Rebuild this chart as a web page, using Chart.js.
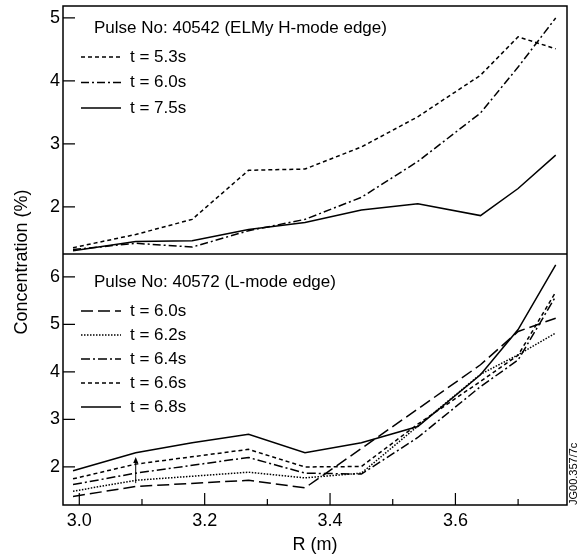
<!DOCTYPE html>
<html>
<head>
<meta charset="utf-8">
<script src="https://cdn.jsdelivr.net/npm/chart.js@4"></script>
<style>
  html, body { margin: 0; padding: 0; background: #fff; }
  #wrap { width: 584px; height: 555px; }
</style>
</head>
<body>
<div id="wrap"><canvas id="myChart" width="584" height="555"></canvas></div>
<script>
// Pulse No: 40542 (top panel), R in m, concentration in %
const rTop = [2.99, 3.09, 3.18, 3.27, 3.36, 3.45, 3.54, 3.64, 3.70, 3.76];
const top53 = [1.35, 1.56, 1.80, 2.58, 2.60, 2.95, 3.43, 4.09, 4.70, 4.51];
const top60 = [1.32, 1.42, 1.36, 1.62, 1.80, 2.15, 2.72, 3.49, 4.22, 5.00];
const top75 = [1.30, 1.45, 1.46, 1.64, 1.75, 1.95, 2.05, 1.86, 2.29, 2.82];

// Pulse No: 40572 (bottom panel)
const rBot = [2.99, 3.09, 3.27, 3.36, 3.45, 3.54, 3.64, 3.70, 3.76];
const bot60 = [1.38, 1.59, 1.72, 1.56, 2.39, 3.22, 4.15, 4.85, 5.13];
const bot62 = [1.49, 1.72, 1.89, 1.77, 1.87, 2.86, 3.95, 4.36, 4.82];
const bot64 = [1.63, 1.87, 2.20, 1.87, 1.85, 2.62, 3.69, 4.25, 5.59];
const bot66 = [1.75, 2.06, 2.37, 2.00, 2.01, 2.90, 3.80, 4.35, 5.68];
const rBot68 = [2.99, 3.09, 3.18, 3.27, 3.36, 3.45, 3.54, 3.64, 3.70, 3.76];
const bot68 = [1.92, 2.30, 2.51, 2.69, 2.30, 2.51, 2.85, 3.94, 4.89, 6.25];

// ticks
const xTicks = [3.0, 3.1, 3.2, 3.3, 3.4, 3.5, 3.6, 3.7];
const yTopTicks = [2, 3, 4, 5];
const yBotTicks = [2, 3, 4, 5, 6];

// small arrow in the lower panel
const arrowR = 3.09;
const arrowFrom = 1.66;
const arrowTo = 2.21;

const FONT = '"Liberation Sans", Arial, Helvetica, sans-serif';

function pts(rs, vs) {
  return vs.map((v, i) => ({ x: rs[i], y: v }));
}

function line(label, rs, vs, axis, dash, width) {
  return {
    label: label,
    data: pts(rs, vs),
    yAxisID: axis,
    borderColor: '#000',
    borderWidth: width || 1.5,
    borderDash: dash,
    pointRadius: 0,
    tension: 0,
    fill: false
  };
}

// no extra padding for the edge tick labels
function noPad(s) {
  s.paddingTop = 0; s.paddingBottom = 0; s.paddingLeft = 0; s.paddingRight = 0;
}

// frame, inward ticks, panel titles, legends, axis titles
const decor = {
  id: 'decor',
  beforeDraw(chart) {
    const ctx = chart.ctx;
    ctx.save();
    ctx.fillStyle = '#fff';
    ctx.fillRect(0, 0, chart.width, chart.height);
    ctx.restore();
  },
  afterDraw(chart) {
    const ctx = chart.ctx;
    const ca = chart.chartArea;
    const x = chart.scales.x, yT = chart.scales.yTop, yB = chart.scales.yBot;
    ctx.save();
    ctx.strokeStyle = '#000';
    ctx.fillStyle = '#000';
    ctx.lineWidth = 1.5;
    ctx.setLineDash([]);
    ctx.strokeRect(ca.left, ca.top, ca.right - ca.left, ca.bottom - ca.top);
    ctx.beginPath();
    ctx.moveTo(ca.left, yB.top);
    ctx.lineTo(ca.right, yB.top);
    ctx.stroke();

    ctx.lineWidth = 1.2;
    ctx.beginPath();
    yTopTicks.forEach(v => {
      const p = yT.getPixelForValue(v);
      ctx.moveTo(ca.left, p); ctx.lineTo(ca.left + 12, p);
    });
    yBotTicks.forEach(v => {
      const p = yB.getPixelForValue(v);
      ctx.moveTo(ca.left, p); ctx.lineTo(ca.left + 12, p);
    });
    xTicks.forEach((v, i) => {
      const p = x.getPixelForValue(v);
      ctx.moveTo(p, ca.bottom); ctx.lineTo(p, ca.bottom - (i % 2 === 0 ? 12 : 6));
    });
    ctx.stroke();

    // arrow
    const ax = x.getPixelForValue(arrowR);
    const a0 = yB.getPixelForValue(arrowFrom), a1 = yB.getPixelForValue(arrowTo);
    ctx.lineWidth = 1;
    ctx.beginPath();
    ctx.moveTo(ax, a0); ctx.lineTo(ax, a1 + 3);
    ctx.stroke();
    ctx.beginPath();
    ctx.moveTo(ax, a1); ctx.lineTo(ax - 2.5, a1 + 6); ctx.lineTo(ax + 2.5, a1 + 6);
    ctx.closePath(); ctx.fill();

    // panel titles and legends
    ctx.font = '17px ' + FONT;
    ctx.textBaseline = 'middle';
    ctx.textAlign = 'left';
    const panels = [
      { axis: 'yTop', title: 'Pulse No: 40542 (ELMy H-mode edge)', titleY: yT.top + 22, rowY: yT.top + 51, step: 25.5 },
      { axis: 'yBot', title: 'Pulse No: 40572 (L-mode edge)', titleY: yB.top + 28, rowY: yB.top + 57, step: 24 }
    ];
    panels.forEach(pn => {
      ctx.fillText(pn.title, ca.left + 31, pn.titleY);
      const sets = chart.data.datasets.filter(d => d.yAxisID === pn.axis);
      sets.forEach((d, i) => {
        const yy = pn.rowY + i * pn.step;
        ctx.save();
        ctx.lineWidth = d.borderWidth;
        ctx.setLineDash(d.borderDash || []);
        ctx.beginPath();
        ctx.moveTo(ca.left + 18, yy); ctx.lineTo(ca.left + 58, yy);
        ctx.stroke();
        ctx.restore();
        ctx.fillText(d.label, ca.left + 67, yy);
      });
    });

    // axis titles
    ctx.font = '18px ' + FONT;
    ctx.textAlign = 'center';
    ctx.fillText('R (m)', (ca.left + ca.right) / 2, 545);
    ctx.save();
    ctx.translate(22, 262);
    ctx.rotate(-Math.PI / 2);
    ctx.fillText('Concentration (%)', 0, 0);
    ctx.restore();

    ctx.save();
    ctx.font = '11px ' + FONT;
    ctx.translate(574, ca.bottom);
    ctx.rotate(-Math.PI / 2);
    ctx.textAlign = 'left';
    ctx.fillText('JG00.357/7c', 0, 0);
    ctx.restore();
    ctx.restore();
  }
};

new Chart('myChart', {
  type: 'line',
  data: {
    datasets: [
      line('t = 5.3s', rTop, top53, 'yTop', [4, 3]),
      line('t = 6.0s', rTop, top60, 'yTop', [8, 3, 2, 3]),
      line('t = 7.5s', rTop, top75, 'yTop', []),
      line('t = 6.0s', rBot, bot60, 'yBot', [12, 5]),
      line('t = 6.2s', rBot, bot62, 'yBot', [1.5, 1.5]),
      line('t = 6.4s', rBot, bot64, 'yBot', [9, 3, 2, 3]),
      line('t = 6.6s', rBot, bot66, 'yBot', [4, 3]),
      line('t = 6.8s', rBot68, bot68, 'yBot', [])
    ]
  },
  options: {
    responsive: false,
    animation: false,
    events: [],
    layout: { padding: { top: 6, right: 17, left: 0, bottom: 0 } },
    plugins: { legend: { display: false }, tooltip: { enabled: false } },
    scales: {
      x: {
        type: 'linear',
        min: 2.974,
        max: 3.778,
        grid: { display: false, drawTicks: false },
        border: { display: false },
        afterBuildTicks: s => { s.ticks = xTicks.map(v => ({ value: v })); },
        afterFit: s => { s.height = 50; noPad(s); },
        ticks: {
          autoSkip: false,
          maxRotation: 0,
          padding: 5,
          color: '#000',
          font: { family: FONT, size: 18 },
          callback: v => (Math.round(v * 10) % 2 === 0 ? v.toFixed(1) : '')
        }
      },
      yTop: {
        type: 'linear',
        position: 'left',
        stack: 'panels',
        stackWeight: 248,
        weight: 2,
        min: 1.25,
        max: 5.19,
        grid: { display: false, drawTicks: false },
        border: { display: false },
        afterBuildTicks: s => { s.ticks = yTopTicks.map(v => ({ value: v })); },
        afterFit: s => { s.width = 63; noPad(s); },
        ticks: { padding: 3, color: '#000', font: { family: FONT, size: 18 } }
      },
      yBot: {
        type: 'linear',
        position: 'left',
        stack: 'panels',
        stackWeight: 251,
        weight: 1,
        min: 1.2,
        max: 6.48,
        grid: { display: false, drawTicks: false },
        border: { display: false },
        afterBuildTicks: s => { s.ticks = yBotTicks.map(v => ({ value: v })); },
        afterFit: s => { s.width = 63; noPad(s); },
        ticks: { padding: 3, color: '#000', font: { family: FONT, size: 18 } }
      }
    }
  },
  plugins: [decor]
});
</script>
</body>
</html>
